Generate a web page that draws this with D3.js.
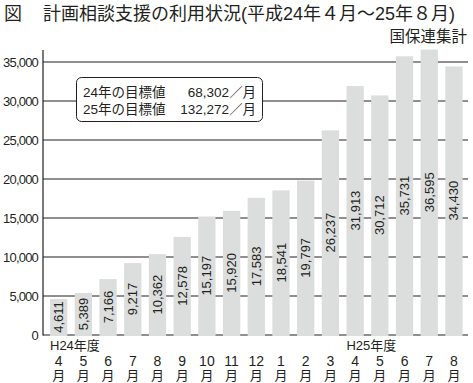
<!DOCTYPE html>
<html><head><meta charset="utf-8">
<script src="https://cdn.jsdelivr.net/npm/d3@7"></script>
<style>
html,body{margin:0;padding:0;background:#fff;}
svg{display:block;font-family:"Liberation Sans","Noto Sans CJK JP",sans-serif;}
</style></head>
<body>
<svg id="chart" width="473" height="383"></svg>
<script>
const months = ["4","5","6","7","8","9","10","11","12","1","2","3","4","5","6","7","8"];
const values = [4611,5389,7166,9217,10362,12578,15197,15920,17583,18541,19797,26237,31913,30712,35731,36595,34430];
const yTicks = [0,5000,10000,15000,20000,25000,30000,35000];
const fiscalLabels = [{idx:0,text:"H24年度"},{idx:12,text:"H25年度"}];
const legendLines = [["24年の目標値","68,302／月"],["25年の目標値","132,272／月"]];
const titleMark = "図";
const title = "計画相談支援の利用状況(平成24年４月～25年８月)";
const source = "国保連集計";

const ink = "#231f20";
const svg = d3.select("#chart");
const idx = d3.range(values.length);
const x = d3.scaleBand().domain(idx).range([46.3,466.3]).paddingInner(0.3).paddingOuter(0.15);
const y = d3.scaleLinear().domain([0,35000]).range([335,62]);
const fmt = d3.format(",");

// title
svg.append("text").attr("x",4).attr("y",20).attr("font-size",18).attr("fill",ink).text(titleMark);
svg.append("text").attr("x",43).attr("y",20).attr("font-size",18).attr("fill",ink).text(title);
svg.append("text").attr("x",467).attr("y",42).attr("font-size",15.5).attr("fill",ink)
  .attr("text-anchor","end").text(source);

// gridlines
svg.append("g").selectAll("line").data(yTicks).join("line")
  .attr("x1",43).attr("x2",468).attr("y1",d=>y(d)).attr("y2",d=>y(d))
  .attr("stroke",ink).attr("stroke-width",1.2);
// y tick labels
svg.append("g").selectAll("text").data(yTicks).join("text")
  .attr("x",38).attr("y",d=>y(d)+4.5).attr("text-anchor","end")
  .attr("font-size",13).attr("letter-spacing","-0.8").attr("fill",ink)
  .text(d=>fmt(d));
// y axis line
svg.append("line").attr("x1",43).attr("x2",43).attr("y1",50).attr("y2",335.6)
  .attr("stroke",ink).attr("stroke-width",1.2);

// bars
svg.append("g").selectAll("rect").data(values).join("rect")
  .attr("x",(d,i)=>x(i)).attr("width",x.bandwidth())
  .attr("y",d=>y(d)).attr("height",d=>y(0)-y(d)+1)
  .attr("fill","#dcdddd");
// bar labels
svg.append("g").selectAll("text").data(values).join("text")
  .attr("transform",(d,i)=>`translate(${x(i)+x.bandwidth()/2+4.5},${(y(d)+y(0))/2}) rotate(-90)`)
  .attr("text-anchor","middle").attr("font-size",13).attr("fill",ink)
  .text(d=>fmt(d));

// legend box
const lg = svg.append("g");
lg.append("rect").attr("x",76.5).attr("y",77.5).attr("width",186).attr("height",44)
  .attr("rx",5).attr("fill","#fff").attr("stroke",ink).attr("stroke-width",1);
legendLines.forEach((l,i)=>{
  lg.append("text").attr("x",83).attr("y",97+i*16.5).attr("font-size",13.5).attr("fill",ink).text(l[0]);
  lg.append("text").attr("x",256).attr("y",97+i*16.5).attr("font-size",13.5).attr("fill",ink)
    .attr("text-anchor","end").text(l[1]);
});

// x labels
svg.append("g").selectAll("text").data(fiscalLabels).join("text")
  .attr("x",d=>x(d.idx)).attr("y",350).attr("font-size",13).attr("fill",ink).text(d=>d.text);
const mg = svg.append("g").selectAll("g").data(months).join("g")
  .attr("transform",(d,i)=>`translate(${x(i)+x.bandwidth()/2},0)`);
mg.append("text").attr("y",365.5).attr("text-anchor","middle").attr("font-size",14).attr("fill",ink).text(d=>d);
mg.append("text").attr("y",379.5).attr("text-anchor","middle").attr("font-size",13).attr("fill",ink).text("月");
</script>
</body></html>
